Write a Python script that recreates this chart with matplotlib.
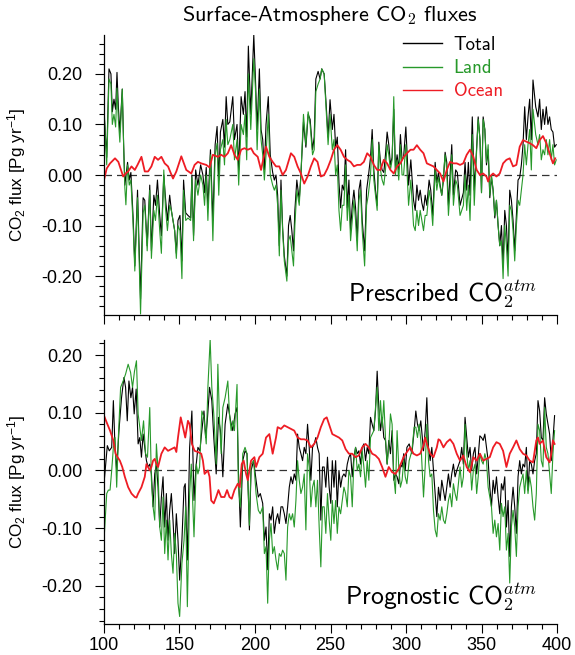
import numpy as np
import matplotlib
matplotlib.use("Agg")
import matplotlib.pyplot as plt
from matplotlib.ticker import MultipleLocator, FormatStrFormatter

# ---------------- data ----------------
# top panel (prescribed CO2): total and land share the year positions
pres_years = [
    100.0, 101.8, 103.3, 104.6, 105.5, 106.6, 107.7, 108.6, 109.5, 110.5,
    112.1, 113.0, 113.8, 114.5, 115.6, 116.7, 117.8, 119.3, 120.4, 122.2,
    124.2, 125.9, 127.0, 128.6, 130.3, 131.4, 133.0, 134.1, 135.4, 136.9,
    138.0, 139.6, 140.7, 142.0, 143.5, 144.6, 146.8, 147.9, 149.0, 150.3,
    151.6, 152.7, 154.1, 155.6, 157.4, 158.2, 159.3, 160.7, 162.2, 164.0,
    165.5, 166.6, 167.7, 168.8, 170.5, 172.1, 173.6, 174.9, 176.0, 177.1,
    178.7, 179.8, 180.9, 182.0, 183.3, 185.3, 186.4, 188.1, 189.2, 190.8,
    192.3, 193.4, 194.5, 195.6, 197.2, 199.2, 200.3, 201.4, 202.9, 204.0,
    205.1, 206.2, 207.3, 208.8, 210.1, 211.7, 212.8, 213.9, 215.0, 216.1,
    217.2, 218.3, 219.4, 221.1, 222.2, 223.3, 224.4, 225.5, 226.4, 227.7,
    229.3, 230.4, 232.1, 233.7, 235.2, 236.5, 238.1, 239.2, 240.3, 241.8,
    243.1, 244.2, 245.8, 246.9, 248.4, 249.7, 251.2, 252.3, 253.4, 254.5,
    255.6, 256.7, 257.8, 258.9, 260.0, 261.1, 262.2, 263.3, 264.4, 265.5,
    266.6, 267.7, 268.8, 269.9, 271.0, 272.6, 273.9, 275.0, 276.5, 277.6,
    278.7, 279.8, 280.9, 282.0, 283.1, 284.2, 285.3, 286.4, 287.5, 288.6,
    289.7, 290.8, 291.9, 293.0, 294.1, 295.2, 296.3, 297.4, 298.4, 299.9,
    301.7, 303.2, 305.0, 306.1, 307.2, 308.3, 309.4, 310.5, 311.6, 312.7,
    313.8, 315.3, 316.4, 317.7, 319.3, 320.4, 321.5, 322.6, 323.7, 324.8,
    325.9, 327.0, 328.1, 329.2, 330.3, 331.4, 332.9, 334.0, 335.8, 338.0,
    339.1, 340.2, 341.3, 342.4, 343.9, 345.2, 346.8, 347.8, 349.0, 350.0,
    351.1, 352.2, 353.3, 354.4, 355.5, 356.6, 357.7, 358.8, 359.9, 361.0,
    362.1, 363.2, 364.3, 365.4, 366.5, 367.6, 368.7, 369.8, 370.9, 372.0,
    373.1, 374.2, 375.3, 376.4, 377.5, 378.6, 379.7, 380.8, 381.9, 383.0,
    384.1, 385.9, 387.4, 388.5, 389.6, 390.7, 391.8, 392.9, 394.0, 395.1,
    396.2, 397.3, 398.4, 399.5]
pres_total = [
    0.125, 0.035, 0.21, 0.20, 0.125, 0.15, 0.13, 0.203, 0.135, 0.085,
    0.17, 0.06, -0.02, -0.003, 0.025, -0.01, 0.005, -0.085, -0.18, -0.03,
    -0.245, -0.045, -0.05, -0.14, -0.02, -0.15, -0.04, -0.06, -0.01, -0.08,
    -0.12, 0.0, -0.045, -0.09, -0.04, -0.07, -0.11, -0.155, -0.09, -0.08,
    -0.17, -0.01, -0.075, -0.08, -0.085, 0.0, -0.12, 0.01, -0.02, 0.02,
    0.0, -0.035, 0.015, -0.065, 0.05, -0.09, 0.06, 0.096, -0.01, 0.085,
    0.11, 0.055, 0.155, 0.10, 0.105, 0.155, 0.07, 0.10, 0.01, 0.155,
    0.12, 0.165, 0.075, 0.255, 0.12, 0.277, 0.19, 0.09, 0.21, 0.09,
    0.07, 0.01, 0.10, 0.155, 0.04, 0.005, -0.01, 0.0, -0.04, -0.14,
    -0.01, -0.105, -0.16, -0.20, -0.10, -0.08, -0.11, -0.15, -0.07, -0.01,
    -0.05, 0.0, 0.105, 0.055, 0.12, 0.11, 0.05, 0.075, 0.19, 0.205,
    0.19, 0.21, 0.20, 0.15, 0.075, 0.149, 0.09, 0.12, 0.055, 0.075,
    -0.015, -0.065, -0.02, -0.03, 0.05, -0.065, -0.01, -0.11, -0.06, -0.03,
    -0.065, -0.13, -0.03, -0.01, -0.09, -0.15, -0.03, -0.005, 0.035, 0.09,
    0.01, -0.03, -0.06, 0.065, 0.025, 0.01, 0.005, 0.04, 0.085, 0.06,
    0.02, 0.035, 0.13, 0.01, 0.04, 0.01, 0.08, 0.03, 0.035, 0.095,
    -0.02, 0.03, -0.05, -0.07, -0.02, -0.05, -0.03, -0.055, -0.07, -0.04,
    -0.06, -0.01, -0.03, -0.08, 0.025, -0.015, 0.005, -0.02, -0.04, -0.01,
    0.045, 0.025, -0.06, 0.0, 0.06, -0.04, 0.01, 0.005, -0.06, -0.035,
    0.025, -0.03, 0.025, -0.04, 0.115, -0.03, 0.055, 0.115, 0.07, -0.035,
    0.115, 0.09, 0.02, 0.05, -0.045, -0.005, -0.03, -0.085, -0.05, -0.10,
    -0.14, -0.10, -0.18, -0.07, -0.10, -0.17, -0.03, -0.05, -0.09, -0.15,
    -0.08, -0.01, -0.005, 0.02, 0.06, 0.135, 0.07, 0.115, 0.15, 0.07,
    0.188, 0.135, 0.115, 0.15, 0.09, 0.13, 0.10, 0.135, 0.10, 0.115,
    0.09, 0.085, 0.055, 0.06]
pres_land = [
    0.135, 0.02, 0.19, 0.18, 0.10, 0.12, 0.095, 0.172, 0.11, 0.065,
    0.17, 0.06, -0.025, -0.059, 0.02, -0.02, -0.01, -0.10, -0.19, -0.045,
    -0.275, -0.075, -0.06, -0.15, -0.03, -0.165, -0.07, -0.09, -0.04, -0.11,
    -0.155, 0.01, -0.065, -0.11, -0.06, -0.07, -0.11, -0.165, -0.10, -0.11,
    -0.205, -0.03, -0.09, -0.085, -0.09, -0.005, -0.13, -0.01, -0.04, 0.0,
    -0.02, -0.06, 0.0, -0.09, 0.04, -0.13, 0.04, 0.063, -0.04, 0.05,
    0.07, 0.02, 0.11, 0.06, 0.07, 0.10, 0.03, 0.07, -0.02, 0.10,
    0.08, 0.12, 0.03, 0.20, 0.09, 0.23, 0.17, 0.05, 0.17, 0.07,
    0.04, -0.01, 0.04, 0.12, 0.0, -0.02, -0.03, -0.02, -0.06, -0.16,
    -0.03, -0.11, -0.17, -0.21, -0.13, -0.12, -0.15, -0.18, -0.10, -0.03,
    -0.06, 0.0, 0.12, 0.06, 0.125, 0.10, 0.04, 0.05, 0.165, 0.18,
    0.19, 0.21, 0.20, 0.14, 0.06, 0.12, 0.05, 0.07, 0.0, 0.02,
    -0.07, -0.11, -0.06, -0.06, 0.02, -0.09, -0.04, -0.13, -0.09, -0.05,
    -0.09, -0.15, -0.05, -0.03, -0.11, -0.18, -0.06, -0.04, 0.0, 0.07,
    -0.01, -0.04, -0.07, 0.06, 0.01, -0.01, -0.02, 0.01, 0.06, 0.04,
    0.01, 0.03, 0.155, 0.0, 0.03, -0.01, 0.06, 0.0, 0.0, 0.06,
    -0.06, -0.01, -0.10, -0.11, -0.07, -0.10, -0.07, -0.09, -0.11, -0.08,
    -0.08, -0.03, -0.05, -0.10, 0.01, -0.03, -0.005, -0.025, -0.04, 0.0,
    0.04, 0.01, -0.08, -0.03, 0.04, -0.06, -0.01, -0.02, -0.08, -0.06,
    0.0, -0.07, -0.02, -0.09, 0.08, -0.06, 0.05, 0.11, 0.07, -0.035,
    0.11, 0.09, 0.025, 0.06, -0.04, 0.0, -0.03, -0.08, -0.05, -0.10,
    -0.14, -0.13, -0.205, -0.10, -0.14, -0.20, -0.06, -0.07, -0.11, -0.17,
    -0.10, -0.05, -0.06, -0.03, 0.0, 0.06, 0.02, 0.06, 0.09, 0.01,
    0.13, 0.08, 0.06, 0.08, 0.03, 0.05, 0.04, 0.07, 0.04, 0.07,
    0.03, 0.06, 0.02, 0.03]
pres_ocean_years = [
    100.0, 101.8, 104.0, 107.3, 109.5, 112.7, 114.3, 116.0, 118.2, 120.4,
    122.2, 124.8, 127.0, 129.2, 131.4, 133.6, 135.8, 138.0, 140.2, 142.4,
    145.7, 147.9, 151.2, 154.5, 157.8, 160.0, 162.2, 164.4, 167.7, 169.9,
    172.1, 175.4, 177.6, 179.8, 182.0, 184.2, 186.4, 188.6, 190.8, 193.0,
    195.2, 197.4, 199.2, 201.8, 204.0, 205.1, 207.3, 209.5, 211.7, 213.9,
    216.1, 218.3, 220.5, 223.8, 226.0, 228.2, 230.4, 232.6, 234.8, 237.0,
    239.2, 241.4, 243.6, 245.8, 248.0, 250.2, 252.3, 254.5, 256.7, 258.9,
    261.1, 263.3, 265.5, 267.7, 269.9, 272.1, 274.3, 276.5, 278.7, 280.9,
    283.1, 285.3, 287.5, 289.7, 291.9, 294.1, 296.3, 298.5, 300.6, 303.0,
    305.0, 307.2, 309.4, 311.6, 313.8, 316.0, 318.2, 320.4, 322.6, 324.8,
    327.0, 329.2, 331.4, 333.6, 335.8, 337.9, 340.2, 342.4, 344.6, 346.8,
    349.0, 351.1, 353.3, 354.4, 355.5, 357.7, 359.9, 362.1, 364.3, 366.5,
    368.7, 370.9, 373.1, 375.3, 377.5, 379.7, 381.9, 384.1, 386.3, 388.5,
    390.7, 392.9, 395.1, 397.3, 398.8]
pres_ocean = [
    -0.010, 0.013, 0.023, 0.033, 0.026, -0.003, 0.003, 0.007, 0.017, 0.010,
    0.020, 0.036, 0.007, 0.007, 0.017, 0.036, 0.030, 0.036, 0.023, 0.017,
    -0.007, 0.007, 0.037, 0.010, 0.003, 0.020, 0.026, 0.023, 0.020, 0.015,
    0.040, 0.036, 0.040, 0.036, 0.043, 0.059, 0.040, 0.030, 0.050, 0.053,
    0.050, 0.053, 0.043, 0.036, 0.010, 0.026, 0.056, 0.036, 0.026, 0.017,
    0.017, 0.000, 0.010, 0.043, 0.036, 0.017, 0.003, -0.017, -0.003, 0.017,
    0.033, 0.026, -0.003, 0.000, 0.013, 0.030, 0.050, 0.059, 0.050, 0.036,
    0.030, 0.026, 0.017, 0.020, 0.020, 0.026, 0.043, 0.036, 0.020, 0.010,
    0.010, 0.030, 0.023, 0.010, 0.003, 0.017, 0.023, 0.036, 0.043, 0.050,
    0.050, 0.059, 0.050, 0.043, 0.023, 0.020, 0.017, 0.010, 0.003, -0.013,
    0.010, 0.026, 0.023, 0.023, 0.020, 0.023, 0.040, 0.050, 0.036, 0.010,
    0.000, 0.003, -0.003, -0.013, -0.003, 0.003, -0.003, 0.003, 0.023, 0.030,
    0.033, 0.017, 0.020, 0.056, 0.069, 0.066, 0.063, 0.059, 0.053, 0.069,
    0.077, 0.063, 0.043, 0.023, 0.033]

# bottom panel (prognostic CO2)
prog_total_years = [
    100.0, 101.1, 102.2, 103.5, 105.1, 106.2, 107.3, 108.4, 109.9, 111.6,
    113.2, 114.3, 115.4, 116.5, 117.8, 118.9, 120.0, 121.3, 122.6, 123.7,
    124.8, 125.9, 127.0, 128.1, 129.2, 130.3, 131.4, 132.5, 133.6, 134.7,
    135.8, 136.9, 138.0, 139.1, 140.2, 141.3, 142.4, 143.5, 144.6, 145.7,
    146.8, 147.9, 149.0, 150.1, 151.6, 153.0, 153.8, 155.2, 156.7, 158.2,
    159.6, 160.9, 162.2, 163.5, 164.8, 166.2, 167.3, 168.4, 169.9, 171.4,
    172.7, 174.3, 175.8, 177.1, 178.7, 180.2, 182.0, 183.8, 185.3, 186.8,
    188.1, 189.0, 190.3, 191.9, 193.4, 194.7, 196.3, 197.4, 199.1]
prog_total = [
    -0.023, 0.011, 0.043, 0.034, 0.040, 0.121, 0.040, 0.0, 0.069, 0.126,
    0.161, 0.144, 0.086, 0.155, 0.126, 0.144, 0.098, 0.141, 0.046, 0.057,
    0.023, 0.063, 0.040, 0.017, 0.006, 0.011, -0.006, -0.063, -0.006, 0.011,
    -0.029, -0.098, -0.046, -0.011, -0.098, -0.040, -0.121, -0.069, -0.040, -0.086,
    -0.144, -0.075, -0.121, -0.190, -0.121, -0.029, -0.023, -0.155, 0.040, 0.103,
    -0.052, 0.006, 0.040, 0.034, 0.069, 0.103, 0.057, 0.086, 0.144, 0.121,
    0.057, -0.006, 0.092, 0.069, -0.011, 0.080, 0.115, 0.086, 0.069, 0.098,
    0.109, 0.000, -0.098, 0.017, 0.034, 0.029, -0.103, 0.0, 0.017]
prog_land_years = [
    100.0, 101.8, 102.9, 104.0, 105.1, 106.2, 107.3, 108.4, 109.5, 111.0,
    112.7, 114.3, 116.0, 117.6, 118.9, 120.2, 121.5, 122.6, 123.7, 124.8,
    126.2, 127.5, 128.8, 130.3, 131.4, 132.5, 133.6, 134.7, 135.8, 136.9,
    138.0, 139.1, 140.2, 141.3, 142.4, 143.5, 144.6, 145.7, 146.8, 147.9,
    149.0, 150.1, 151.6, 153.0, 154.1, 155.2, 156.7, 157.8, 159.6, 161.1,
    162.2, 163.3, 164.8, 166.2, 167.7, 168.8, 170.3, 171.4, 172.7, 174.3,
    175.4, 176.5, 177.6, 178.7, 180.2, 182.0, 183.1, 184.2, 185.3, 186.4,
    188.1, 189.0, 190.3, 191.9, 193.4, 194.7, 196.3, 197.4, 199.1]
prog_land = [
    -0.121, -0.040, -0.034, -0.034, 0.0, 0.040, 0.057, -0.029, 0.057, 0.144,
    0.155, 0.167, 0.184, 0.170, 0.144, 0.172, 0.190, 0.098, 0.075, 0.052,
    0.086, 0.029, 0.023, 0.109, -0.017, -0.063, -0.086, 0.046, 0.0, -0.098,
    -0.121, -0.046, -0.144, -0.086, -0.155, -0.086, -0.144, -0.178, -0.109, -0.144,
    -0.230, -0.253, -0.161, -0.121, -0.063, -0.236, -0.040, 0.011, -0.115, 0.011,
    -0.006, 0.006, 0.103, 0.092, 0.046, 0.144, 0.227, 0.144, 0.098, 0.011,
    0.184, 0.086, 0.029, 0.109, 0.126, 0.155, 0.098, 0.069, 0.086, 0.069,
    0.149, -0.029, -0.063, 0.029, 0.040, 0.029, -0.095, 0.011, 0.017]
# from year 200 on, total and land share the year positions
prog_years_b = [
    200.7, 202.2, 203.5,
    205.1, 206.2, 207.3, 208.4, 209.5, 210.6, 211.7, 212.8, 213.9, 215.0,
    216.1, 217.2, 218.3, 219.4, 220.5, 221.6, 222.7, 223.8, 224.9, 226.0,
    227.1, 228.2, 229.3, 230.4, 231.5, 232.6, 233.7, 234.8, 235.9, 237.0,
    238.1, 239.2, 240.3, 241.4, 242.5, 243.6, 244.7, 245.8, 246.9, 248.0,
    249.1, 250.2, 251.2, 252.3, 253.4, 254.5, 255.6, 256.7, 257.8, 258.9,
    260.0, 261.1, 262.2, 263.3, 264.4, 265.5, 266.6, 267.7, 268.8, 269.9,
    271.0, 272.1, 273.2, 274.3, 275.4, 276.5, 277.6, 278.7, 279.8, 280.9,
    282.0, 283.1, 284.2, 285.3, 286.4, 287.5, 288.6, 289.7, 290.8, 291.9,
    293.0, 294.1, 295.2, 296.3, 297.4, 298.5,
    299.5, 300.6, 302.1, 303.9, 305.4, 306.5, 307.6, 308.7, 309.8, 311.6,
    312.7, 313.8, 314.9, 316.0, 317.1, 318.2, 319.3, 320.4, 321.5, 322.6,
    323.7, 324.8, 325.9, 327.0, 328.1, 329.2, 330.3, 331.4, 332.5, 333.6,
    335.8, 336.9, 338.0, 339.1, 340.2, 341.3, 342.4, 343.5, 344.6, 345.7,
    346.8, 347.8, 348.9, 350.0, 351.1, 352.2, 353.3, 354.4, 355.5, 356.6,
    357.7, 358.8, 359.9, 361.0, 362.1, 363.2, 364.3, 365.4, 366.5, 367.6,
    368.7, 369.8, 370.9, 372.0, 373.1, 374.2, 375.3, 376.4, 377.5, 378.6,
    379.7, 380.8, 381.9, 383.0, 384.1, 385.2, 386.3, 387.4, 388.5, 389.6,
    390.7, 391.8, 392.9, 394.0, 395.1, 396.2, 397.3, 398.4]
prog_total_b = [
    -0.017, -0.046, -0.040,
    -0.057, -0.121, -0.098, -0.172, -0.075, -0.086, -0.063, -0.109, -0.086, -0.075,
    -0.092, -0.063, -0.063, -0.075, -0.092, -0.063, -0.029, -0.011, -0.023, -0.006,
    -0.017, 0.063, 0.040, 0.029, 0.017, 0.040, 0.029, 0.080, 0.040, -0.017,
    0.040, 0.046, 0.057, 0.040, 0.029, -0.086, 0.006, 0.006, -0.029, 0.023,
    -0.029, -0.057, 0.017, -0.029, 0.017, -0.063, 0.0, -0.029, -0.011, -0.006,
    -0.011, 0.011, 0.023, 0.029, -0.011, 0.023, 0.040, 0.029, 0.034, 0.011,
    0.040, 0.046, 0.017, 0.040, 0.029, 0.092, 0.080, 0.069, 0.103, 0.172,
    0.109, 0.069, 0.092, 0.057, 0.052, 0.011, 0.052, 0.029, 0.069, -0.017,
    -0.006, -0.011, -0.023, 0.011, 0.006, 0.029,
    0.0, 0.040, 0.046, 0.029, 0.069, 0.103, 0.080, 0.069, 0.086, 0.034,
    0.069, 0.126, 0.040, 0.017, 0.040, 0.0, -0.040, -0.080, -0.029, -0.052,
    -0.017, -0.034, -0.052, -0.029, -0.006, -0.029, -0.006, 0.011, -0.011, 0.0,
    0.017, 0.040, 0.011, 0.092, 0.057, 0.023, 0.040, 0.0, 0.029, 0.040,
    -0.006, 0.023, 0.060, 0.057, 0.052, 0.063, 0.040, 0.017, -0.029, -0.063,
    -0.017, -0.040, -0.011, -0.046, -0.075, -0.023, -0.034, -0.011, -0.098, -0.052,
    -0.149, -0.063, -0.029, -0.063, -0.109, -0.011, 0.017, -0.006, 0.011, 0.006,
    0.040, -0.034, 0.017, 0.011, -0.006, 0.017, 0.029, 0.121, 0.103, 0.057,
    0.052, 0.126, 0.098, 0.080, 0.063, 0.017, 0.052, 0.095]
prog_land_b = [
    -0.040, -0.069, -0.075,
    -0.063, -0.144, -0.132, -0.230, -0.121, -0.092, -0.144, -0.132, -0.155, -0.172,
    -0.144, -0.149, -0.138, -0.144, -0.190, -0.098, -0.075, -0.086, -0.075, -0.098,
    -0.052, 0.017, -0.017, -0.040, -0.029, -0.006, -0.103, 0.029, 0.006, -0.063,
    -0.029, -0.017, -0.063, -0.017, -0.098, -0.167, -0.063, -0.063, -0.109, -0.040,
    -0.086, -0.121, -0.052, -0.092, -0.052, -0.109, -0.063, -0.075, -0.052, -0.029,
    -0.040, -0.063, 0.0, -0.011, -0.063, 0.017, 0.040, 0.0, 0.011, -0.011,
    0.034, 0.006, -0.029, 0.017, -0.017, 0.057, 0.063, 0.069, 0.109, 0.144,
    0.069, 0.121, 0.075, 0.121, 0.057, 0.011, 0.040, 0.098, 0.080, -0.011,
    -0.040, 0.069, 0.006, -0.029, -0.017, 0.017,
    -0.011, -0.023, 0.017, 0.034, 0.075, 0.075, 0.057, 0.080, 0.052, -0.046,
    0.006, 0.080, 0.017, -0.011, -0.006, -0.069, -0.103, -0.115, -0.075, -0.086,
    -0.063, -0.086, -0.092, -0.075, -0.052, -0.040, -0.063, -0.023, -0.040, -0.052,
    0.006, -0.029, -0.011, 0.080, 0.029, 0.0, 0.017, -0.034, 0.0, 0.011,
    -0.040, -0.011, 0.029, 0.017, 0.011, 0.029, 0.017, -0.029, -0.046, -0.063,
    -0.109, -0.086, -0.115, -0.092, -0.138, -0.057, -0.080, -0.063, -0.138, -0.109,
    -0.195, -0.098, -0.069, -0.098, -0.149, -0.063, -0.029, -0.017, -0.006, -0.040,
    0.0, -0.040, -0.011, -0.029, -0.063, -0.086, -0.040, 0.080, 0.069, 0.017,
    0.006, 0.109, 0.040, 0.029, -0.006, -0.040, 0.029, 0.069]
prog_ocean_years = [
    100.0, 101.8, 104.0, 106.2, 107.7, 109.0, 110.5, 112.1, 113.8, 116.0,
    118.2, 120.4, 121.5, 122.6, 124.8, 127.0, 128.1, 129.2, 130.3, 131.4,
    132.5, 133.6, 134.7, 135.8, 138.0, 140.2, 142.4, 144.6, 146.8, 147.9,
    149.0, 150.8, 152.3, 153.8, 155.6, 156.7, 158.2, 160.0, 162.2, 164.4,
    165.5, 166.6, 168.8, 169.9, 171.0, 172.7, 174.3, 175.8, 177.6, 179.8,
    181.5, 183.1, 184.6, 186.4, 188.6, 189.9, 191.2, 192.5, 194.1, 195.2,
    196.3, 197.4, 199.6, 200.7, 202.9, 205.1, 207.3, 209.5, 211.7, 213.9,
    215.0, 217.2, 219.4, 221.6, 223.8, 226.0, 228.2, 230.4, 232.6, 234.8,
    237.0, 239.2, 241.4, 243.6, 245.8, 247.5, 249.0, 251.2, 253.4, 255.6,
    257.8, 260.0, 262.2, 264.4, 266.6, 268.8, 271.0, 273.2, 275.4, 277.6,
    279.8, 282.0, 284.2, 286.4, 288.6, 290.8, 293.0, 295.2, 297.4, 298.4,
    300.6, 302.8, 305.0, 307.2, 309.4, 311.6, 312.7, 313.8, 316.0, 318.2,
    320.4, 321.5, 322.6, 324.8, 327.0, 329.2, 331.4, 333.6, 335.8, 337.9,
    340.2, 342.4, 344.6, 346.8, 349.0, 351.1, 353.3, 355.5, 357.7, 359.9,
    362.1, 364.3, 366.5, 368.7, 370.9, 373.1, 375.3, 377.5, 379.7, 381.9,
    384.1, 386.3, 387.4, 388.5, 390.7, 392.9, 395.1, 396.2, 397.3, 398.4]
prog_ocean = [
    0.095, 0.083, 0.069, 0.052, 0.029, 0.023, 0.017, 0.006, -0.011, -0.029,
    -0.040, -0.046, -0.047, -0.040, -0.029, -0.011, 0.011, 0.006, 0.0, 0.006,
    0.017, 0.020, 0.011, 0.006, 0.029, 0.040, 0.034, 0.037, 0.040, 0.032,
    0.057, 0.092, 0.075, 0.057, 0.086, 0.080, 0.046, 0.034, 0.032, 0.029,
    0.017, -0.006, 0.0, -0.011, -0.052, -0.057, -0.046, -0.034, -0.046, -0.046,
    -0.034, -0.046, -0.049, -0.034, -0.023, -0.029, 0.011, 0.017, -0.006, -0.017,
    0.0, 0.017, 0.023, 0.006, 0.023, 0.029, 0.057, 0.063, 0.029, 0.057,
    0.075, 0.072, 0.078, 0.075, 0.072, 0.069, 0.057, 0.054, 0.054, 0.052,
    0.040, 0.046, 0.057, 0.075, 0.089, 0.092, 0.080, 0.063, 0.060, 0.057,
    0.052, 0.037, 0.029, 0.029, 0.023, 0.026, 0.040, 0.046, 0.040, 0.029,
    0.026, 0.020, 0.006, -0.011, 0.006, -0.003, -0.006, 0.003, 0.017, 0.023,
    0.032, 0.040, 0.029, 0.026, 0.029, 0.043, 0.057, 0.046, 0.029, 0.023,
    0.040, 0.054, 0.052, 0.040, 0.049, 0.054, 0.046, 0.029, 0.017, 0.026,
    0.006, -0.003, 0.023, 0.017, 0.029, 0.017, 0.020, 0.023, 0.040, 0.049,
    0.046, 0.034, 0.006, 0.029, 0.040, 0.052, 0.037, 0.029, 0.026, 0.017,
    0.014, 0.052, 0.057, 0.046, 0.052, 0.023, 0.014, 0.029, 0.052, 0.046]

series_labels = ["Total", "Land", "Ocean"]
panel_titles = ["Prescribed CO", "Prognostic CO"]

# ---------------- style ----------------
plt.rcParams['font.family'] = ['Liberation Sans', 'DejaVu Sans']
plt.rcParams['mathtext.fontset'] = 'custom'
plt.rcParams['mathtext.rm'] = 'Liberation Sans'
plt.rcParams['mathtext.it'] = 'Liberation Sans:italic'
plt.rcParams['axes.unicode_minus'] = False

c_total = 'black'
c_land = '#27992a'
c_ocean = '#ee1c24'

fig = plt.figure(figsize=(5.75, 6.55), dpi=100)
ax1 = fig.add_axes([104/575, 1-315/655, 453/575, 280/655])
ax2 = fig.add_axes([104/575, 1-624/655, 453/575, 284/655])

ax1.plot(pres_years, pres_total, color=c_total, lw=0.8, label=series_labels[0])
ax1.plot(pres_years, pres_land, color=c_land, lw=0.8, label=series_labels[1])
ax1.plot(pres_ocean_years, pres_ocean, color=c_ocean, lw=1.3, label=series_labels[2])

ax2.plot(prog_total_years + prog_years_b, prog_total + prog_total_b, color=c_total, lw=0.8)
ax2.plot(prog_land_years + prog_years_b, prog_land + prog_land_b, color=c_land, lw=0.8)
ax2.plot(prog_ocean_years, prog_ocean, color=c_ocean, lw=1.3)

ax1.set_ylim(-0.277, 0.277)
ax2.set_ylim(-0.266, 0.226)

for ax in (ax1, ax2):
    ax.set_xlim(100, 400)
    ax.axhline(0, color='#333333', lw=0.9, ls=(0, (6, 4)), zorder=0)
    for s in ('top', 'right'):
        ax.spines[s].set_visible(False)
    for s in ('left', 'bottom'):
        ax.spines[s].set_linewidth(0.9)
    ax.xaxis.set_major_locator(MultipleLocator(50))
    ax.xaxis.set_minor_locator(MultipleLocator(10))
    ax.yaxis.set_major_locator(MultipleLocator(0.1))
    ax.yaxis.set_minor_locator(MultipleLocator(0.02))
    ax.yaxis.set_major_formatter(FormatStrFormatter('%.2f'))
    ax.tick_params(which='major', direction='out', length=6.5, width=0.8,
                   labelsize=13, pad=9)
    ax.tick_params(which='minor', direction='out', length=3.3, width=0.8)
    ax.set_ylabel(r'CO$_2$ flux [Pg yr$^{-1}$]', fontsize=12.3)
    ax.yaxis.set_label_coords(-0.168, 0.5)

ax1.tick_params(axis='x', labelbottom=False)
ax2.tick_params(axis='x', pad=2.5)

for name, ybase in ((panel_titles[0], 302), (panel_titles[1], 605)):
    fig.text(537/575, 1 - ybase/655, name + r'$_\mathsf{2}^{atm}$',
             ha='right', va='baseline', fontsize=18.5, family='cmss10',
             math_fontfamily='cm')

fig.text(330/575, 1 - 21/655, r'Surface-Atmosphere CO$_\mathsf{2}$ fluxes',
         ha='center', va='baseline', fontsize=16, family='cmss10',
         math_fontfamily='cm')

leg = ax1.legend(loc='upper left', bbox_to_anchor=(299/453, 0.997), frameon=False,
                 prop={'family': 'cmss10', 'size': 13.5}, labelcolor='linecolor',
                 handlelength=2.1, handletextpad=0.6, labelspacing=0.28,
                 borderpad=0, borderaxespad=0)
for line in leg.get_lines():
    line.set_linewidth(1.0)

fig.savefig('out.png', dpi=100)
